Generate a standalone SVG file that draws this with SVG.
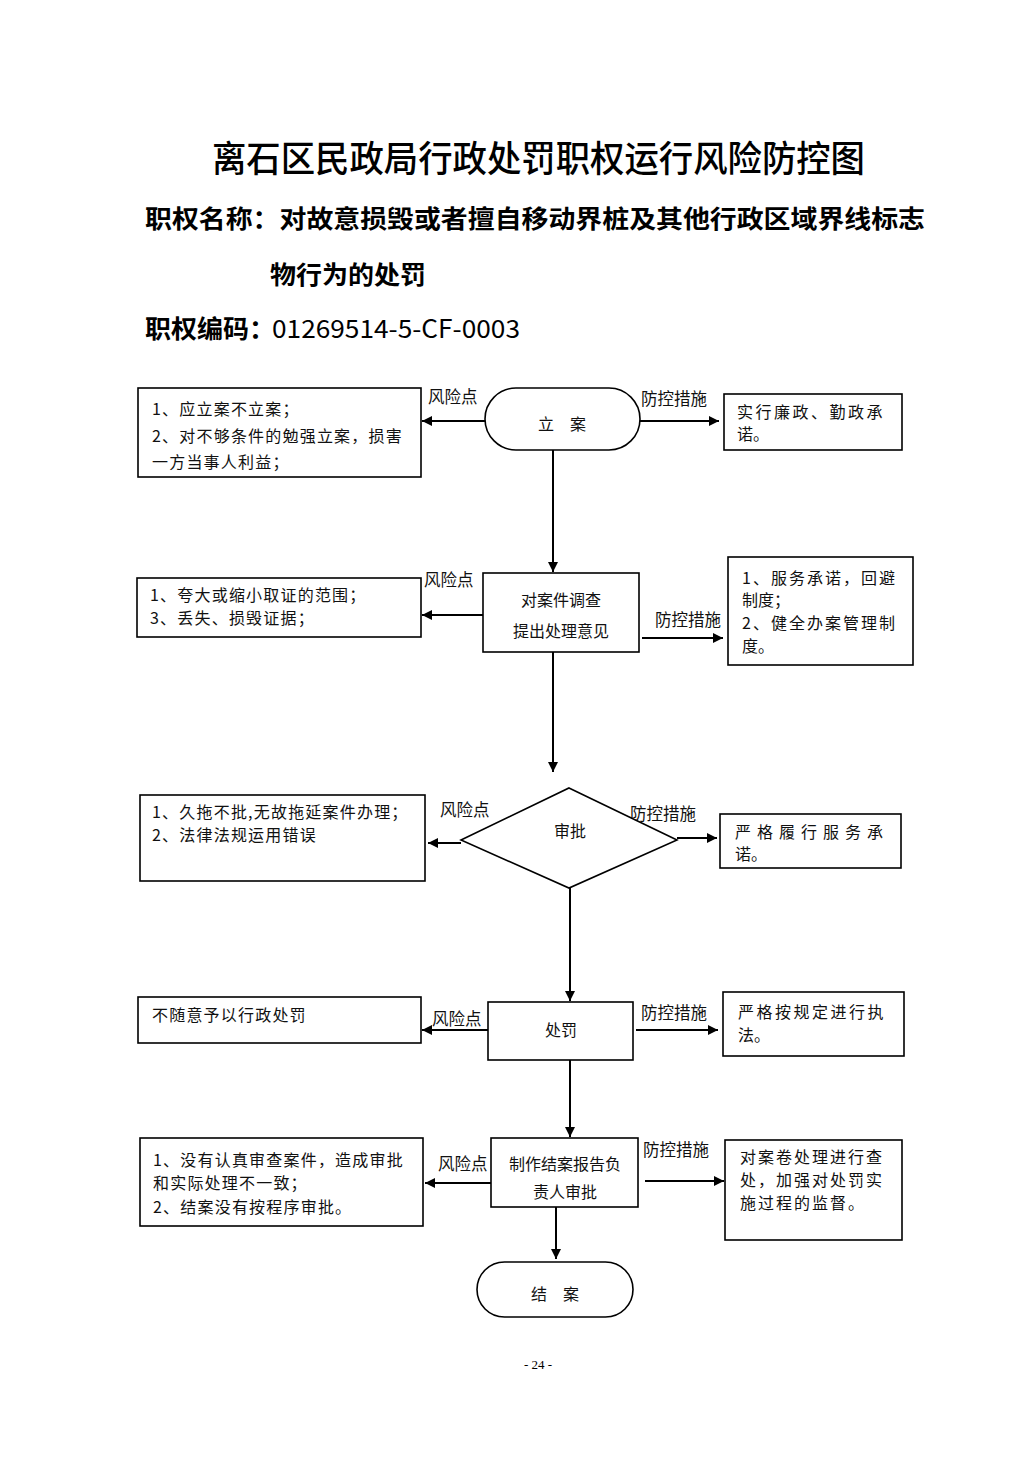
<svg xmlns="http://www.w3.org/2000/svg" width="1033" height="1461" viewBox="0 0 1033 1461">
<defs>
<marker id="ah" viewBox="0 0 10 10" refX="10" refY="5" markerWidth="10" markerHeight="10" markerUnits="userSpaceOnUse" orient="auto">
<path d="M0,0 L10,5 L0,10 z" fill="#000"/>
</marker>
<style>
.box{fill:#fff;stroke:#000;stroke-width:1.6}
.t{font-family:"Noto Sans CJK SC","Liberation Serif",sans-serif;font-size:16px;fill:#111}
.l{letter-spacing:1.2px}
.c{text-anchor:middle}
.h{font-family:"Noto Sans CJK SC",sans-serif;fill:#000}
.ln{stroke:#000;stroke-width:2;fill:none}
.lb{font-family:"Noto Sans CJK SC",sans-serif;font-size:16.5px;fill:#111}
</style>
</defs>
<rect width="1033" height="1461" fill="#fff"/>
<g id="header">
<text class="h" x="212" y="172" font-size="36" font-weight="500" textLength="653" lengthAdjust="spacingAndGlyphs">离石区民政局行政处罚职权运行风险防控图</text>
<text class="h" x="145" y="228" font-size="25" font-weight="bold" textLength="780" lengthAdjust="spacingAndGlyphs">职权名称：对故意损毁或者擅自移动界桩及其他行政区域界线标志</text>
<text class="h" x="270" y="284" font-size="25" font-weight="bold" textLength="156" lengthAdjust="spacingAndGlyphs">物行为的处罚</text>
<text class="h" x="145" y="338" font-size="25" font-weight="bold" textLength="130" lengthAdjust="spacingAndGlyphs">职权编码：</text>
<text class="h" x="272" y="338" font-size="25" textLength="248" lengthAdjust="spacingAndGlyphs">01269514-5-CF-0003</text>
</g>
<g id="connectors">
<line class="ln" x1="485" y1="421" x2="422" y2="421" marker-end="url(#ah)"/>
<line class="ln" x1="640" y1="421" x2="719" y2="421" marker-end="url(#ah)"/>
<line class="ln" x1="553" y1="450" x2="553" y2="572" marker-end="url(#ah)"/>
<line class="ln" x1="483" y1="615" x2="422" y2="615" marker-end="url(#ah)"/>
<line class="ln" x1="642" y1="638" x2="723" y2="638" marker-end="url(#ah)"/>
<line class="ln" x1="553" y1="652" x2="553" y2="772" marker-end="url(#ah)"/>
<line class="ln" x1="461" y1="843" x2="428" y2="843" marker-end="url(#ah)"/>
<line class="ln" x1="677" y1="838" x2="717" y2="838" marker-end="url(#ah)"/>
<line class="ln" x1="570" y1="885" x2="570" y2="1001" marker-end="url(#ah)"/>
<line class="ln" x1="488" y1="1030" x2="422" y2="1030" marker-end="url(#ah)"/>
<line class="ln" x1="636" y1="1030" x2="718" y2="1030" marker-end="url(#ah)"/>
<line class="ln" x1="570" y1="1060" x2="570" y2="1137" marker-end="url(#ah)"/>
<line class="ln" x1="491" y1="1183" x2="425" y2="1183" marker-end="url(#ah)"/>
<line class="ln" x1="645" y1="1181" x2="724" y2="1181" marker-end="url(#ah)"/>
<line class="ln" x1="556" y1="1207" x2="556" y2="1259" marker-end="url(#ah)"/>
<text class="lb" x="428" y="403">风险点</text>
<text class="lb" x="641" y="405">防控措施</text>
<text class="lb" x="424" y="586">风险点</text>
<text class="lb" x="655" y="626">防控措施</text>
<text class="lb" x="440" y="816">风险点</text>
<text class="lb" x="630" y="820">防控措施</text>
<text class="lb" x="432" y="1025">风险点</text>
<text class="lb" x="641" y="1019">防控措施</text>
<text class="lb" x="438" y="1170">风险点</text>
<text class="lb" x="643" y="1156">防控措施</text>
</g>
<g id="n1">
<rect class="box" x="485" y="388" width="155" height="62" rx="31" ry="31"/>
<text class="t c" x="562" y="430">立　案</text>
</g>
<g id="r1">
<rect class="box" x="138" y="388" width="283" height="89"/>
<text class="t l" x="152" y="415">1、应立案不立案；</text>
<text class="t l" x="152" y="442">2、对不够条件的勉强立案，损害</text>
<text class="t l" x="152" y="468">一方当事人利益；</text>
</g>
<g id="m1">
<rect class="box" x="724" y="394" width="178" height="56"/>
<text class="t" x="737" y="418" letter-spacing="2.5">实行廉政、勤政承</text>
<text class="t" x="737" y="440">诺。</text>
</g>
<g id="n2">
<rect class="box" x="483" y="573" width="156" height="79"/>
<text class="t c" x="561" y="606">对案件调查</text>
<text class="t c" x="561" y="637">提出处理意见</text>
</g>
<g id="r2">
<rect class="box" x="137" y="578" width="284" height="59"/>
<text class="t l" x="150" y="601">1、夸大或缩小取证的范围；</text>
<text class="t l" x="150" y="624">3、丢失、损毁证据；</text>
</g>
<g id="m2">
<rect class="box" x="728" y="557" width="185" height="108"/>
<text class="t" x="742" y="584" letter-spacing="2">1、服务承诺，回避</text>
<text class="t" x="742" y="606">制度；</text>
<text class="t" x="742" y="629" letter-spacing="2">2、健全办案管理制</text>
<text class="t" x="742" y="652">度。</text>
</g>
<g id="n3">
<polygon class="box" points="569,788 677,840 569,888 461,840"/>
<text class="t c" x="570" y="837">审批</text>
</g>
<g id="r3">
<rect class="box" x="140" y="795" width="285" height="86"/>
<text class="t l" x="152" y="818">1、久拖不批,无故拖延案件办理；</text>
<text class="t l" x="152" y="841">2、法律法规运用错误</text>
</g>
<g id="m3">
<rect class="box" x="720" y="814" width="181" height="54"/>
<text class="t" x="735" y="838" letter-spacing="6">严格履行服务承</text>
<text class="t" x="735" y="860">诺。</text>
</g>
<g id="n4">
<rect class="box" x="488" y="1002" width="145" height="58"/>
<text class="t c" x="561" y="1036">处罚</text>
</g>
<g id="r4">
<rect class="box" x="138" y="997" width="283" height="46"/>
<text class="t l" x="152" y="1021">不随意予以行政处罚</text>
</g>
<g id="m4">
<rect class="box" x="723" y="992" width="181" height="64"/>
<text class="t" x="738" y="1018" letter-spacing="2.5">严格按规定进行执</text>
<text class="t" x="738" y="1041">法。</text>
</g>
<g id="n5">
<rect class="box" x="491" y="1138" width="147" height="69"/>
<text class="t c" x="565" y="1170">制作结案报告负</text>
<text class="t c" x="565" y="1198">责人审批</text>
</g>
<g id="r5">
<rect class="box" x="140" y="1138" width="283" height="88"/>
<text class="t l" x="153" y="1166">1、没有认真审查案件，造成审批</text>
<text class="t l" x="153" y="1189">和实际处理不一致；</text>
<text class="t l" x="153" y="1213">2、结案没有按程序审批。</text>
</g>
<g id="m5">
<rect class="box" x="725" y="1140" width="177" height="100"/>
<text class="t" x="740" y="1163" letter-spacing="2">对案卷处理进行查</text>
<text class="t" x="740" y="1186" letter-spacing="2">处，加强对处罚实</text>
<text class="t" x="740" y="1209" letter-spacing="2">施过程的监督。</text>
</g>
<g id="n6">
<rect class="box" x="477" y="1262" width="156" height="55" rx="27.5" ry="27.5"/>
<text class="t c" x="555" y="1300">结　案</text>
</g>
<text x="538" y="1369" font-family="Liberation Serif,serif" font-size="13" text-anchor="middle" fill="#000">- 24 -</text>
</svg>
